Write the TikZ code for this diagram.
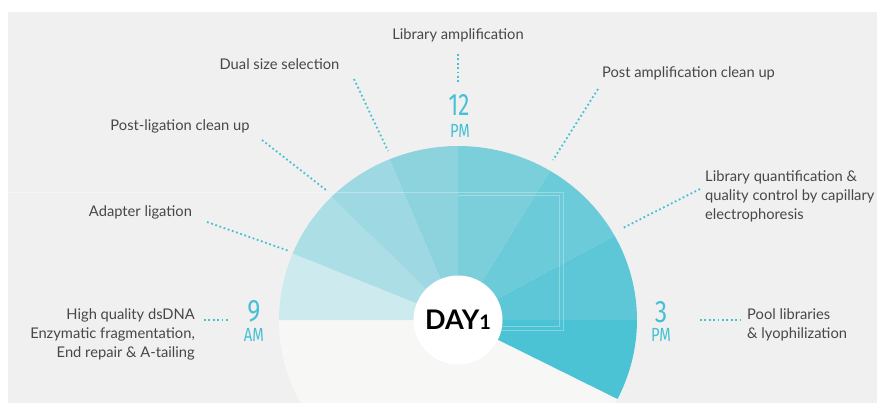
\documentclass[tikz,border=0pt]{standalone}
\usepackage{fontspec}
\setmainfont{Lato}
\newfontfamily\clockfont{Fira Sans}
\definecolor{panel}{HTML}{F0F0F0}
\definecolor{lowdisk}{HTML}{F7F7F6}
\definecolor{wa}{HTML}{CDEAEE}
\definecolor{wb}{HTML}{ACDEE6}
\definecolor{wc}{HTML}{9ED9E3}
\definecolor{wd}{HTML}{8CD3DE}
\definecolor{we}{HTML}{7BCFDB}
\definecolor{wf}{HTML}{6CCBD9}
\definecolor{wg}{HTML}{5DC7D7}
\definecolor{wh}{HTML}{4CC3D4}
\definecolor{teal}{HTML}{46C0D3}
\definecolor{txt}{HTML}{474747}
\tikzset{
  label/.style={text=txt, font=\fontsize{14.7}{19}\selectfont, inner sep=0pt},
  leader/.style={draw=teal, line width=1.8pt, dash pattern=on 1.8pt off 2.6pt},
  clock/.style={text=teal, inner sep=0pt},
  ghost/.style={draw=white, opacity=0.3, line width=0.8pt}
}
\begin{document}
\begin{tikzpicture}[x=1pt,y=-1pt]
\useasboundingbox (0,0) rectangle (877,403);
\clip (0,0) rectangle (877,403);
\fill[white] (0,0) rectangle (877,403);
\fill[panel] (8,12) rectangle (877,403);
\begin{scope}[shift={(458,320)},yscale=-0.972]
  \fill[lowdisk] (0,0) circle[radius=179];
  \fill[wa] (0,0) -- (180:179) arc[start angle=180,end angle=157.5,radius=179] -- cycle;
  \fill[wb] (0,0) -- (157.5:179) arc[start angle=157.5,end angle=135,radius=179] -- cycle;
  \fill[wc] (0,0) -- (135:179) arc[start angle=135,end angle=112.5,radius=179] -- cycle;
  \fill[wd] (0,0) -- (112.5:179) arc[start angle=112.5,end angle=90,radius=179] -- cycle;
  \fill[we] (0,0) -- (90:179) arc[start angle=90,end angle=59,radius=179] -- cycle;
  \fill[wf] (0,0) -- (59:179) arc[start angle=59,end angle=29,radius=179] -- cycle;
  \fill[wg] (0,0) -- (29:179) arc[start angle=29,end angle=0,radius=179] -- cycle;
  \fill[wh] (0,0) -- (0:179) arc[start angle=0,end angle=-27,radius=179] -- cycle;
\end{scope}
\draw[ghost] (8,192) -- (563,192) -- (563,330) -- (497,330);
\draw[ghost] (458,195.5) -- (559.5,195.5) -- (559.5,326.5) -- (500,326.5);
\node[circle, fill=white, minimum size=89pt, inner sep=0pt,
      font=\fontsize{27}{27}\selectfont\bfseries] (day) at (458,320)
      {DAY{\fontsize{20}{20}\selectfont 1}};
% labels
\node[label] (libamp) at (458,35) {Library amplification};
\node[label] (dual) at (279.5,64) {Dual size selection};
\node[label] (postlig) at (180,126) {Post-ligation clean up};
\node[label] (adapter) at (140.5,212) {Adapter ligation};
\node[label, anchor=east, align=right] (highq) at (195,334)
  {High quality dsDNA\\Enzymatic fragmentation,\\End repair \& A-tailing};
\node[label] (postamp) at (688.5,73) {Post amplification clean up};
\node[label, anchor=west, align=left] (libq) at (705,196.5)
  {Library quantification \&\\quality control by capillary\\electrophoresis};
\node[label, anchor=west, align=left] (pool) at (747,325)
  {Pool libraries\\\& lyophilization};
% clock labels
\node[clock, font=\clockfont\fontsize{31}{31}\selectfont] (t12) at (459,105) {\scalebox{0.72}[1]{12}};
\node[clock, font=\clockfont\fontsize{19}{19}\selectfont] (pma) at (460,131) {\scalebox{0.78}[1]{PM}};
\node[clock, font=\clockfont\fontsize{31}{31}\selectfont] (t9) at (254,311) {\scalebox{0.8}[1]{9}};
\node[clock, font=\clockfont\fontsize{19}{19}\selectfont] (am) at (254,335) {\scalebox{0.78}[1]{AM}};
\node[clock, font=\clockfont\fontsize{31}{31}\selectfont] (t3) at (661,312) {\scalebox{0.8}[1]{3}};
\node[clock, font=\clockfont\fontsize{19}{19}\selectfont] (pmb) at (661,335) {\scalebox{0.78}[1]{PM}};
% leader coordinates
\coordinate (la1) at (458,54);  \coordinate (la2) at (458,84);
\coordinate (ds1) at (354,79);  \coordinate (ds2) at (388,151);
\coordinate (pl1) at (262,140); \coordinate (pl2) at (326,190);
\coordinate (ad1) at (207,222); \coordinate (ad2) at (289,251);
\coordinate (hq1) at (204,320); \coordinate (hq2) at (230,320);
\coordinate (pa1) at (598,89);  \coordinate (pa2) at (553,160);
\coordinate (lq1) at (700,189); \coordinate (lq2) at (623,228);
\coordinate (po1) at (700,320); \coordinate (po2) at (740,320);
\draw[leader] (la1) -- (la2);
\draw[leader] (ds1) -- (ds2);
\draw[leader] (pl1) -- (pl2);
\draw[leader] (ad1) -- (ad2);
\draw[leader] (hq1) -- (hq2);
\draw[leader] (pa1) -- (pa2);
\draw[leader] (lq1) -- (lq2);
\draw[leader] (po1) -- (po2);
\end{tikzpicture}
\end{document}
